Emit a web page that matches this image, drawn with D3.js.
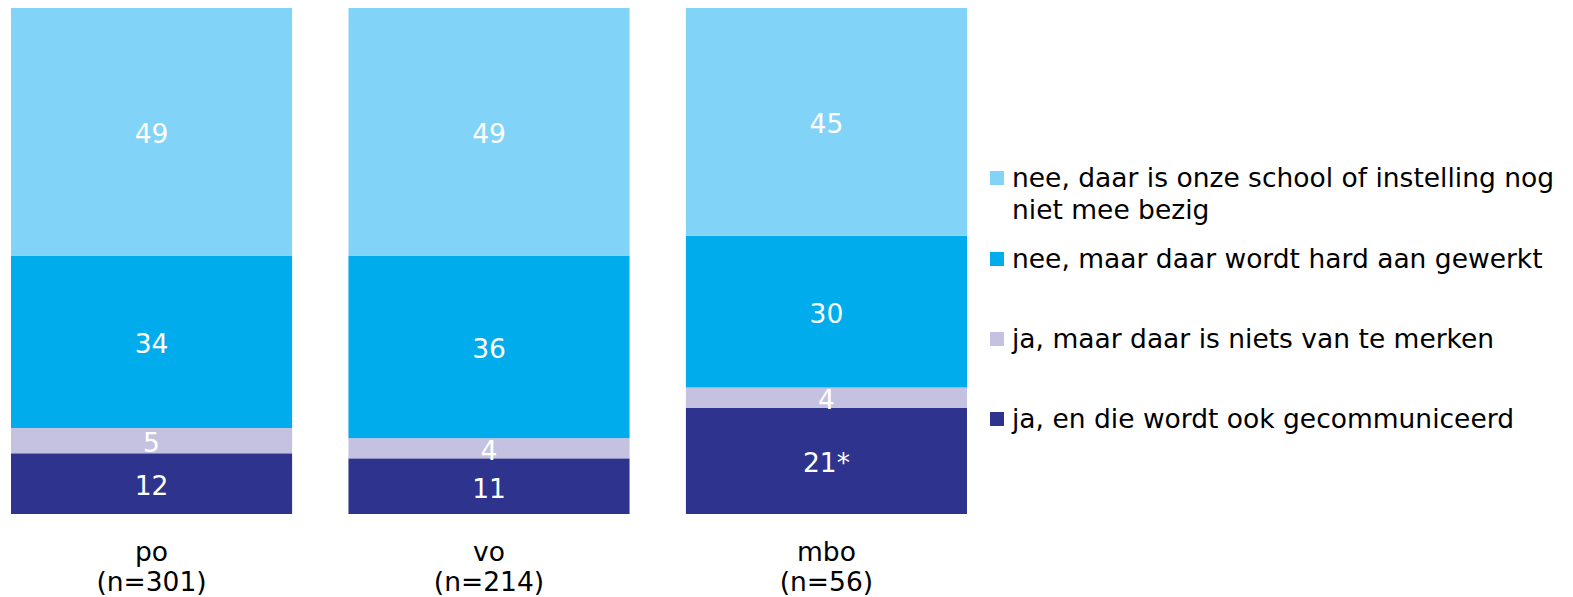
<!DOCTYPE html>
<html><head><meta charset="utf-8">
<script src="https://cdn.jsdelivr.net/npm/d3@7"></script>
<style>body{margin:0;background:#fff}svg{display:block}text{font-family:"DejaVu Sans",Verdana,sans-serif}</style>
</head><body>
<svg id="c" width="1573" height="597"></svg>
<script>
const categories = ["po", "vo", "mbo"];
const sampleSizes = ["(n=301)", "(n=214)", "(n=56)"];
const seriesNames = [
  "ja, en die wordt ook gecommuniceerd",
  "ja, maar daar is niets van te merken",
  "nee, maar daar wordt hard aan gewerkt",
  "nee, daar is onze school of instelling nog niet mee bezig"
];
const jaCommuniceerd = [12, 11, 21];
const jaNietsMerken = [5, 4, 4];
const neeHardGewerkt = [34, 36, 30];
const neeNietBezig = [49, 49, 45];
const valueLabels = [
  ["12", "11", "21*"],
  ["5", "4", "4"],
  ["34", "36", "30"],
  ["49", "49", "45"]
];
const colors = ["#2E348D", "#C4C2E0", "#00ACEC", "#81D4F7"];

const rows = categories.map((c, i) => ({
  cat: c, s0: jaCommuniceerd[i], s1: jaNietsMerken[i], s2: neeHardGewerkt[i], s3: neeNietBezig[i]
}));
const keys = ["s0", "s1", "s2", "s3"];
const stack = d3.stack().keys(keys)(rows);

const FS = 26.5;
const svg = d3.select("#c");
const x = d3.scaleBand().domain(categories).range([11, 967]).paddingInner(0.167).paddingOuter(0);
const y = d3.scaleLinear().domain([0, 100]).range([514, 8]);

const g = svg.append("g");
stack.forEach((layer, li) => {
  g.selectAll(null).data(layer).enter().append("rect")
    .attr("x", d => x(d.data.cat))
    .attr("width", x.bandwidth())
    .attr("y", d => y(d[1]))
    .attr("height", d => y(d[0]) - y(d[1]))
    .attr("fill", colors[li]);
});
stack.forEach((layer, li) => {
  g.selectAll(null).data(layer).enter().append("text")
    .attr("x", d => x(d.data.cat) + x.bandwidth() / 2)
    .attr("y", d => (y(d[0]) + y(d[1])) / 2)
    .attr("dy", "0.43em")
    .attr("text-anchor", "middle")
    .attr("fill", "#fff")
    .attr("font-size", FS)
    .text((d, i) => valueLabels[li][i]);
});

// category labels
categories.forEach((c, i) => {
  const cx = x(c) + x.bandwidth() / 2;
  svg.append("text").attr("x", cx).attr("y", 561).attr("text-anchor", "middle")
    .attr("font-size", FS).attr("fill", "#000").text(c);
  svg.append("text").attr("x", cx).attr("y", 591).attr("text-anchor", "middle")
    .attr("font-size", FS).attr("fill", "#000").text(sampleSizes[i]);
});

// legend (top to bottom: reversed series order)
const legendItems = [
  {name: ["nee, daar is onze school of instelling nog", "niet mee bezig"], color: colors[3], y: 187},
  {name: [seriesNames[2]], color: colors[2], y: 268},
  {name: [seriesNames[1]], color: colors[1], y: 348},
  {name: [seriesNames[0]], color: colors[0], y: 428}
];
const lg = svg.append("g");
legendItems.forEach(it => {
  lg.append("rect").attr("x", 990).attr("y", it.y - 16).attr("width", 14).attr("height", 14).attr("fill", it.color);
  const t = lg.append("text").attr("x", 1012).attr("y", it.y).attr("font-size", FS).attr("fill", "#000");
  it.name.forEach((line, k) => {
    t.append("tspan").attr("x", 1012).attr("dy", k === 0 ? 0 : 32).text(line);
  });
});
</script>
</body></html>
